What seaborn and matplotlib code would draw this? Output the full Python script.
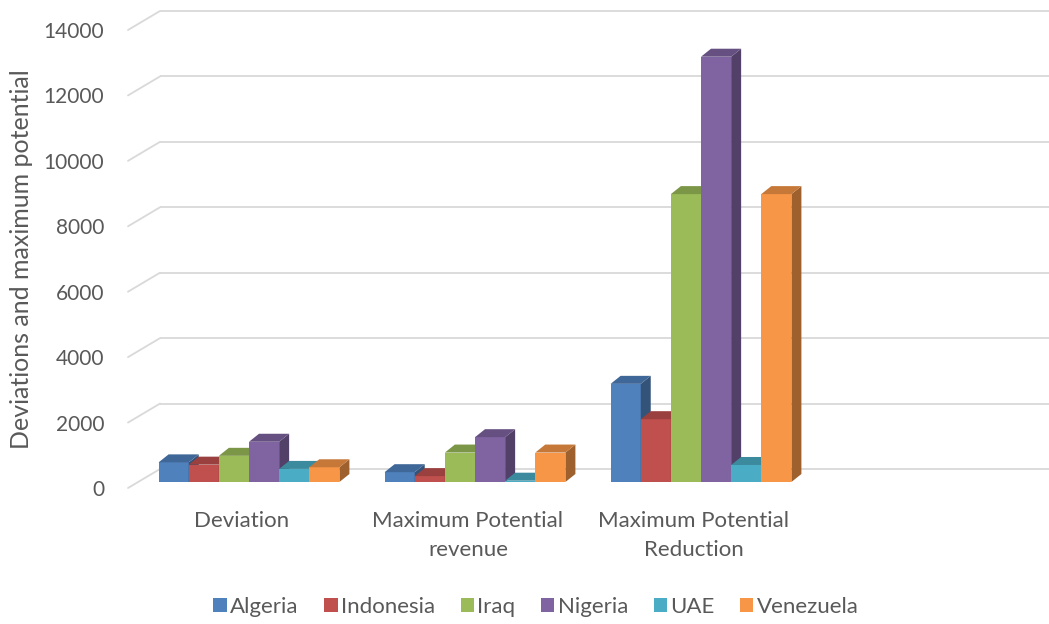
import numpy as np
import pandas as pd
import matplotlib
matplotlib.use("Agg")
import matplotlib.pyplot as plt
import matplotlib.transforms as mtransforms
from matplotlib.patches import Polygon, Patch
from matplotlib.colors import to_rgb
import seaborn as sns

# ---- data ----
categories = ["Deviation", "Maximum Potential\nrevenue", "Maximum Potential\nReduction"]
countries = ["Algeria", "Indonesia", "Iraq", "Nigeria", "UAE", "Venezuela"]
algeria = [600, 300, 3000]
indonesia = [530, 180, 1920]
iraq = [800, 900, 8800]
nigeria = [1230, 1370, 13000]
uae = [400, 40, 520]
venezuela = [450, 900, 8800]
y_ticks = [0, 2000, 4000, 6000, 8000, 10000, 12000, 14000]
y_label = "Deviations and maximum potential"

palette = ["#4F81BD", "#C0504D", "#9BBB59", "#8064A2", "#4BACC6", "#F79646"]
grid_color = "#D9D9D9"
text_color = "#595959"

series = [algeria, indonesia, iraq, nigeria, uae, venezuela]
df = pd.DataFrame(
    [(cat, c, v) for c, vals in zip(countries, series) for cat, v in zip(categories, vals)],
    columns=["category", "country", "value"],
)

sns.set_style("white")
plt.rcParams["font.family"] = ["Lato", "DejaVu Sans"]

W, H = 1049, 624
fig = plt.figure(figsize=(W / 100, H / 100), dpi=100)
# axes = front plane of the bars (pixel box 136..1040 x, 24..482 y)
ax = fig.add_axes([136 / W, (H - 482) / H, 904 / W, 458 / H])

sns.barplot(
    data=df, x="category", y="value", hue="country",
    order=categories, hue_order=countries, palette=palette,
    saturation=1, width=0.8, linewidth=0, legend=False, ax=ax,
)
ax.set_xlim(-0.5, 3.5)
ax.set_ylim(0, 14000)

# pixel -> data conversions for the pseudo-3D depth
sx = 4.0 / 904
sy = 14000.0 / 458


def shade(color, f):
    r, g, b = to_rgb(color)
    return (r * f, g * f, b * f)


# depth of each bar (right/up)
DX, DY = 10 * sx, 8 * sy
for i, cont in enumerate(ax.containers):
    col = palette[i]
    for bar in cont:
        x0, w, h = bar.get_x(), bar.get_width(), bar.get_height()
        bar.set_zorder(5 + i)
        top = Polygon([(x0, h), (x0 + w, h), (x0 + w + DX, h + DY), (x0 + DX, h + DY)],
                      closed=True, facecolor=shade(col, 0.80), edgecolor="none",
                      zorder=5 + i, clip_on=False)
        side = Polygon([(x0 + w, 0), (x0 + w + DX, DY), (x0 + w + DX, h + DY), (x0 + w, h)],
                       closed=True, facecolor=shade(col, 0.64), edgecolor="none",
                       zorder=5 + i, clip_on=False)
        ax.add_patch(side)
        ax.add_patch(top)

# back wall gridlines and side-wall diagonals
back_dx, back_dy = 24 * sx, 13 * sy
front_dx, front_dy = -8 * sx, -6 * sy
for v in y_ticks:
    ax.plot([-0.5 + back_dx, 3.7], [v + back_dy, v + back_dy],
            color=grid_color, lw=1.3, zorder=1, clip_on=False, solid_capstyle="butt")
    ax.plot([-0.5 + front_dx, -0.5 + back_dx], [v + front_dy, v + back_dy],
            color=grid_color, lw=1.3, zorder=1, clip_on=False)

# axes cosmetics
for s in ax.spines.values():
    s.set_visible(False)
ax.grid(False)
ax.set_xlabel("")
ax.set_ylabel(y_label, fontsize=18, color=text_color)
ax.yaxis.set_label_coords((33 - 136) / 904, (482 - 259) / 458)

ax.set_yticks(y_ticks)
ax.set_yticklabels([str(t) for t in y_ticks])
ax.tick_params(axis="y", length=0, pad=23, labelsize=15, labelcolor=text_color)
for lbl in ax.get_yticklabels():
    lbl.set_transform(lbl.get_transform() +
                      mtransforms.ScaledTranslation(0, -6 / 100, fig.dpi_scale_trans))

ax.set_xticks(range(len(categories)))
ax.set_xticklabels(categories)
ax.tick_params(axis="x", length=0, pad=21, labelsize=16, labelcolor=text_color)
for lbl in ax.get_xticklabels():
    lbl.set_linespacing(1.55)
    lbl.set_transform(lbl.get_transform() +
                      mtransforms.ScaledTranslation(-7 / 100, 0, fig.dpi_scale_trans))

handles = [Patch(facecolor=c, edgecolor="none") for c in palette]
fig.legend(handles, countries, loc="center", bbox_to_anchor=(536 / W, 1 - 607 / H),
           ncol=6, frameon=False, fontsize=16, labelcolor=text_color,
           handlelength=0.6, handleheight=0.6, handletextpad=0.15, columnspacing=1.15)

fig.savefig("out.png", dpi=100, facecolor="white")
